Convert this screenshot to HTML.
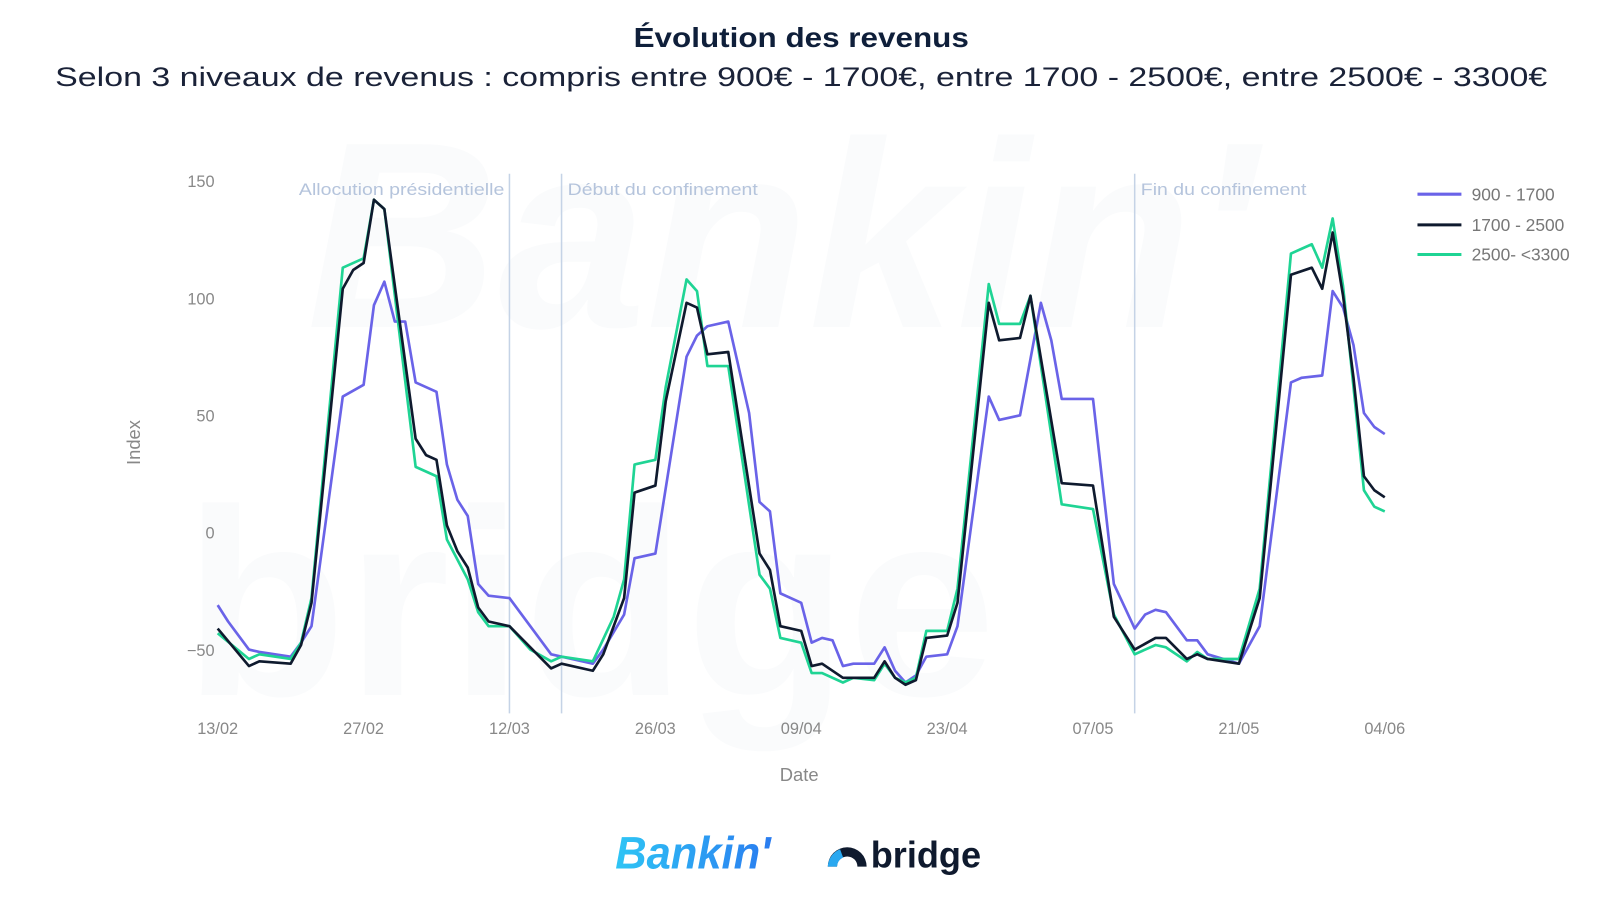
<!DOCTYPE html>
<html><head><meta charset="utf-8"><style>
html,body{margin:0;padding:0;background:#fff;width:1600px;height:900px;overflow:hidden}
svg{display:block}
</style></head><body>
<svg id="chart" width="1600" height="900" viewBox="0 0 1565.6 880.6" xmlns="http://www.w3.org/2000/svg" font-family="Liberation Sans, sans-serif">
<g fill="#fafbfc" font-weight="bold" font-style="italic">
<text x="300" y="320" font-size="260">Bankin'</text>
<text x="180" y="680" font-size="260" font-style="normal">bridge</text>
</g>
<text x="784" y="46" text-anchor="middle" font-size="27" font-weight="bold" fill="#0f1f3a" textLength="328" lengthAdjust="spacingAndGlyphs">Évolution des revenus</text>
<text x="784" y="84" text-anchor="middle" font-size="26" fill="#1a2238" textLength="1460" lengthAdjust="spacingAndGlyphs">Selon 3 niveaux de revenus : compris entre 900€ - 1700€, entre 1700 - 2500€, entre 2500€ - 3300€</text>
<g id="axes"></g>
<g id="series"></g>
<text transform="translate(137,433) rotate(-90)" text-anchor="middle" font-size="18" fill="#888">Index</text>
<text x="782" y="764" text-anchor="middle" font-size="18" fill="#888">Date</text>
<g font-size="17" fill="#777">
<g><line x1="1387" y1="190" x2="1430" y2="190" stroke="#6a63e8" stroke-width="3"/><text x="1440" y="196">900 - 1700</text></g>
<g><line x1="1387" y1="220" x2="1430" y2="220" stroke="#0f1a2e" stroke-width="3"/><text x="1440" y="226">1700 - 2500</text></g>
<g><line x1="1387" y1="249" x2="1430" y2="249" stroke="#1fd494" stroke-width="3"/><text x="1440" y="255">2500- &lt;3300</text></g>
</g>
<g>
<defs><linearGradient id="bg" x1="0" x2="1"><stop offset="0" stop-color="#2ec5f5"/><stop offset="1" stop-color="#2a7cf0"/></linearGradient></defs>
<text x="602" y="850" font-size="44" font-weight="bold" font-style="italic" fill="url(#bg)" textLength="152" lengthAdjust="spacingAndGlyphs">Bankin'</text>
</g>
<g>
<path d="M810 848 A19 19 0 0 1 848 848 L839 848 A10 10 0 0 0 819 848 Z" fill="#0f1a2e"/>
<path d="M810 848 A19 19 0 0 1 822 831 L825 839 A10 10 0 0 0 819 848 Z" fill="#2aa8f0"/>
<text x="852" y="849" font-size="36" font-weight="bold" fill="#0f1a2e" textLength="108" lengthAdjust="spacingAndGlyphs">bridge</text>
</g>
</svg>
<script>
const xTickLabels = ["13/02","27/02","12/03","26/03","09/04","23/04","07/05","21/05","04/06"];
const xTickDays = [0,14,28,42,56,70,84,98,112];
const yTicks = [-50,0,50,100,150];
const eventDays = [28,33,88];
const eventLabels = ["Allocution présidentielle","Début du confinement","Fin du confinement"];
const seriesNames = ["900 - 1700","1700 - 2500","2500- <3300"];
const daysA = [0,1,3,4,7,8,9,12,14,15,16,17,18,19,21,22,23,24,25,26,28,30,32,36,37,39,40,42,45,46,47,49,51,52,53,54,56,57,58,59,60,61,63,64,65,66,67,68,70,71,74,75,77,79,80,81,84,86,88,89,90,91,93,94,95,98,100,103,104,106,107,108,109,110,111,112];
const valuesA = [-31,-38,-50,-51,-53,-47,-40,58,63,97,107,90,90,64,60,29,14,7,-22,-27,-28,-40,-52,-56,-50,-35,-11,-9,75,84,88,90,51,13,9,-26,-30,-47,-45,-46,-57,-56,-56,-49,-59,-64,-61,-53,-52,-40,58,48,50,98,82,57,57,-22,-41,-35,-33,-34,-46,-46,-52,-56,-40,64,66,67,103,96,80,51,45,42];
const daysB = [0,3,4,7,8,9,12,13,14,15,16,19,20,21,22,23,24,25,26,28,30,32,33,36,37,39,40,42,43,45,46,47,49,52,53,54,56,57,58,60,63,64,65,66,67,68,70,71,74,75,77,78,81,84,86,88,90,91,93,94,95,98,100,103,105,106,107,108,109,110,111,112];
const valuesB = [-41,-57,-55,-56,-48,-30,104,112,115,142,138,40,33,31,3,-8,-15,-32,-38,-40,-49,-58,-56,-59,-52,-28,17,20,56,98,96,76,77,-9,-16,-40,-42,-57,-56,-62,-62,-55,-62,-65,-63,-45,-44,-30,98,82,83,101,21,20,-36,-50,-45,-45,-54,-52,-54,-56,-28,110,113,104,128,101,66,24,18,15];
const daysC = [0,3,4,7,8,9,12,14,15,16,19,21,22,24,25,26,28,30,32,33,36,38,39,40,42,43,45,46,47,49,52,53,54,56,57,58,60,61,63,64,65,66,67,68,70,71,74,75,77,78,81,84,86,88,90,91,93,94,95,98,100,103,104,105,106,107,108,109,110,111,112];
const valuesC = [-43,-54,-52,-54,-47,-28,113,117,142,138,28,24,-3,-20,-34,-40,-40,-50,-55,-53,-55,-36,-20,29,31,62,108,103,71,71,-18,-24,-45,-47,-60,-60,-64,-62,-63,-56,-62,-64,-62,-42,-42,-24,106,89,89,101,12,10,-35,-52,-48,-49,-55,-51,-54,-54,-24,119,121,123,113,134,105,62,18,11,9];
const eventLabelLengths = [201,186,162];

const NS="http://www.w3.org/2000/svg";
function xScale(d){return 213+d*(1355-213)/112;}
function yScale(v){return 521-v*2.293;}
const axes=document.getElementById('axes');
const ser=document.getElementById('series');
function mk(tag,attrs,parent){const e=document.createElementNS(NS,tag);for(const k in attrs)e.setAttribute(k,attrs[k]);parent.appendChild(e);return e;}
yTicks.forEach(v=>{
  const t=mk('text',{x:210,y:yScale(v)+6,'text-anchor':'end','font-size':16,fill:'#888'},axes);
  
  
  t.textContent=v===-50?'−50':String(v);
});
xTickLabels.forEach((l,i)=>{
  const t=mk('text',{x:xScale(xTickDays[i]),y:718,'text-anchor':'middle','font-size':16,fill:'#888'},axes);
  
  
  t.textContent=l;
});
eventDays.forEach((d,i)=>{
  const ln=mk('line',{x1:xScale(d),x2:xScale(d),y1:170,y2:698,stroke:'#c5d3e6','stroke-width':1.5},axes);
  
  
  const t=mk('text',{x:xScale(d)+(i===0?-5:6),y:191,'text-anchor':i===0?'end':'start','font-size':16,fill:'#b5c4dc',textLength:eventLabelLengths[i],lengthAdjust:'spacingAndGlyphs'},axes);
  
  
  t.textContent=eventLabels[i];
});
[[daysA,valuesA,'#6a63e8','line-900-1700'],[daysC,valuesC,'#1fd494','line-2500-3300'],[daysB,valuesB,'#0f1a2e','line-1700-2500']].forEach(s=>{
  const pts=s[0].map((d,i)=>xScale(d).toFixed(1)+','+yScale(s[1][i]).toFixed(1)).join(' ');
  const p=mk('polyline',{points:pts,fill:'none',stroke:s[2],'stroke-width':2.6,'stroke-linejoin':'round'},ser);
  
  
});
</script>
</body></html>
